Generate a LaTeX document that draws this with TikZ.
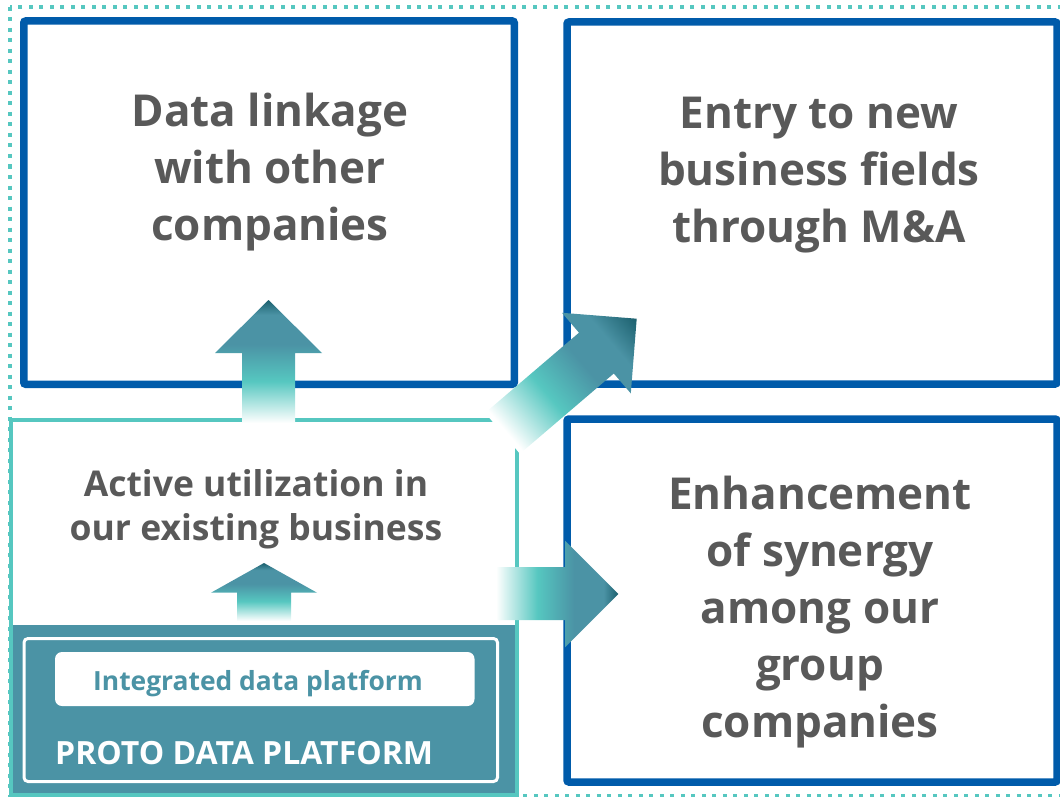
\documentclass[tikz,border=0pt]{standalone}
\usepackage{fontspec}
\setmainfont{Open Sans}
\definecolor{frameblue}{RGB}{0,91,170}
\definecolor{tealL}{RGB}{86,199,192}
\definecolor{steel}{RGB}{75,147,165}
\definecolor{tealD}{RGB}{28,96,110}
\definecolor{txtgray}{RGB}{89,89,89}
\pgfdeclarehorizontalshading{arrowgrad}{100bp}{color(0bp)=(white); color(25bp)=(white); color(42bp)=(tealL); color(57bp)=(steel); color(69bp)=(steel); color(75bp)=(tealD); color(100bp)=(tealD)}
\pgfdeclarehorizontalshading{diaggrad}{100bp}{color(0bp)=(white); color(25bp)=(white); color(44bp)=(tealL); color(60bp)=(steel); color(72bp)=(steel); color(84bp)=(tealD); color(100bp)=(tealD)}
\begin{document}
\begin{tikzpicture}[x=1pt,y=-1pt,
  bluebox/.style={draw=frameblue, line width=7.5pt, rounded corners=2pt},
  bigtext/.style={text=txtgray, font=\bfseries\fontsize{44}{57}\selectfont, align=center, anchor=base, inner sep=0pt},
  midtext/.style={text=txtgray, font=\bfseries\fontsize{35.5}{43.3}\selectfont, align=center, anchor=base, inner sep=0pt},
  arrowshade/.style={shading=arrowgrad}
]
\useasboundingbox (0,0) rectangle (1060,797);
% outer dotted frame
\draw[tealL, line width=4pt, dash pattern=on 4pt off 6.5pt] (10.3,7) rectangle (1070,796);
% platform block
\fill[steel] (11,625) rectangle (517,795);
\draw[tealL, line width=4.5pt] (11,420) rectangle (517,795);
\draw[white, line width=3pt, rounded corners=4pt] (24,638.5) rectangle (497.5,781.5);
\fill[white, rounded corners=7pt] (55,652) rectangle (474.5,706);
\node[anchor=base, inner sep=0pt, text=steel, font=\bfseries\fontsize{26.4}{30}\selectfont] (idp) at (258,690) {Integrated data platform};
\node[anchor=base west, inner sep=0pt, text=white, font=\bfseries\fontsize{32}{38}\selectfont] (pdp) at (55,764) {PROTO DATA PLATFORM};
% blue boxes
\draw[bluebox] (23.75,21) rectangle (514.25,384.25);
\draw[bluebox] (567,22) rectangle (1057,384);
\draw[bluebox] (567,419) rectangle (1057,782);
% texts (anchor base = last line baseline)
\node[bigtext] (t1) at (270,240) {Data linkage\\with other\\companies};
\node[bigtext] (t2) at (819,242) {Entry to new\\business fields\\through M\&A};
\node[bigtext] (t3) at (820,737) {Enhancement\\of synergy\\among our\\group\\companies};
\node[midtext] (t4) at (256,540) {Active utilization in\\our existing business};
% block arrows
\shade[arrowshade, shading angle=90] (242,423) -- (242,353) -- (215,353) -- (268.5,300) -- (322,353) -- (295,353) -- (295,423) -- cycle;
\shade[arrowshade, shading angle=90] (237,621) -- (237,592.7) -- (211,592.7) -- (264,563) -- (317,592.7) -- (291,592.7) -- (291,621) -- cycle;
\shade[arrowshade, shading angle=0] (496,567) -- (565,567) -- (565,540.7) -- (618.3,594) -- (565,647.3) -- (565,620) -- (496,620) -- cycle;
\shade[shading=diaggrad, shading angle=40.5] (485.1,412.9) -- (579.0,332.7) -- (562.0,312.8) -- (636.7,318.7) -- (630.8,393.4) -- (613.8,373.5) -- (519.9,453.7) -- cycle;
\end{tikzpicture}
\end{document}
